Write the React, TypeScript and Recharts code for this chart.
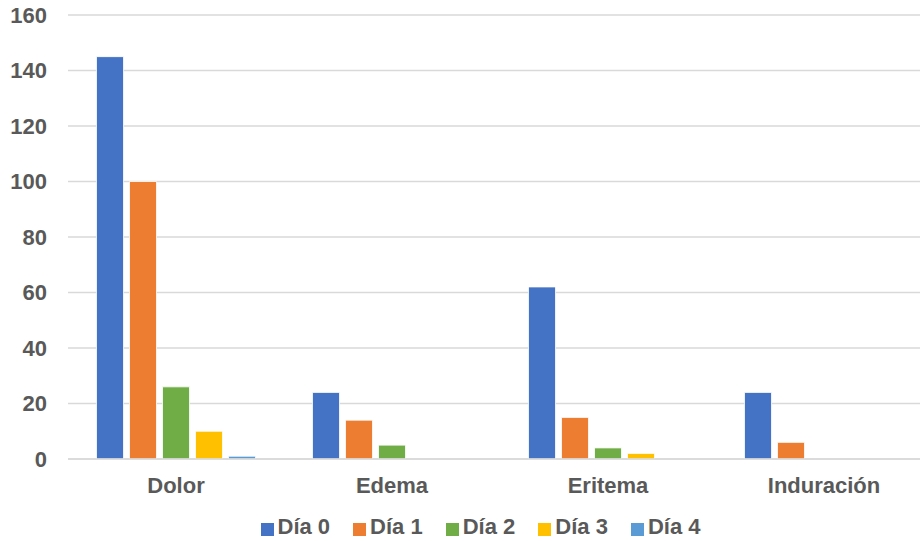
import React from "react";
import { BarChart, Bar, XAxis, YAxis, CartesianGrid, Legend } from "recharts";

const categories = ["Dolor", "Edema", "Eritema", "Induración"];
const dia0 = [145, 24, 62, 24];
const dia1 = [100, 14, 15, 6];
const dia2 = [26, 5, 4, 0];
const dia3 = [10, 0, 2, 0];
const dia4 = [1, 0, 0, 0];
const yTicks = [0, 20, 40, 60, 80, 100, 120, 140, 160];

const seriesNames = ["Día 0", "Día 1", "Día 2", "Día 3", "Día 4"];
const seriesValues = [dia0, dia1, dia2, dia3, dia4];
const colors = ["#4472C4", "#ED7D31", "#70AD47", "#FFC000", "#5B9BD5"];

const data = categories.map((c, i) => {
  const row: Record<string, string | number> = { name: c };
  seriesNames.forEach((s, j) => {
    row[s] = seriesValues[j][i];
  });
  return row;
});

const font = "'Liberation Sans', Arial, sans-serif";
const textColor = "#595959";

export default function App() {
  return (
    <div style={{ position: "absolute", left: 0, top: 0, fontFamily: font, width: 920, height: 541, overflow: "hidden" }}>
      <BarChart
        width={920}
        height={541}
        data={data}
        margin={{ top: 15, right: -12, left: 0, bottom: 0 }}
        barCategoryGap="13.2%"
        barGap={6}
      >
        <CartesianGrid vertical={false} stroke="#d9d9d9" strokeWidth={1.3} />
        <XAxis
          dataKey="name"
          height={42}
          axisLine={{ stroke: "#d9d9d9", strokeWidth: 1.3 }}
          tickLine={false}
          tickMargin={12}
          tick={{ fill: textColor, fontSize: 22, fontWeight: "bold", fontFamily: font }}
        />
        <YAxis
          width={68}
          domain={[0, 160]}
          ticks={yTicks}
          axisLine={false}
          tickLine={false}
          tickMargin={15}
          tick={{ fill: textColor, fontSize: 22, fontWeight: "bold", fontFamily: font }}
        />
        <Legend
          verticalAlign="bottom"
          iconType="square"
          iconSize={13}
          wrapperStyle={{
            height: 40,
            paddingTop: 13,
            boxSizing: "border-box",
            left: 26,
            fontFamily: font,
            lineHeight: "26px",
          }}
          formatter={(value: string) => (
            <span style={{ color: textColor, fontSize: 22, fontWeight: "bold", marginRight: 13 }}>
              {value}
            </span>
          )}
        />
        {seriesNames.map((s, j) => (
          <Bar
            key={s}
            dataKey={s}
            fill={colors[j]}
            stroke="#ffffff"
            strokeWidth={0.8}
            isAnimationActive={false}
          />
        ))}
      </BarChart>
    </div>
  );
}
